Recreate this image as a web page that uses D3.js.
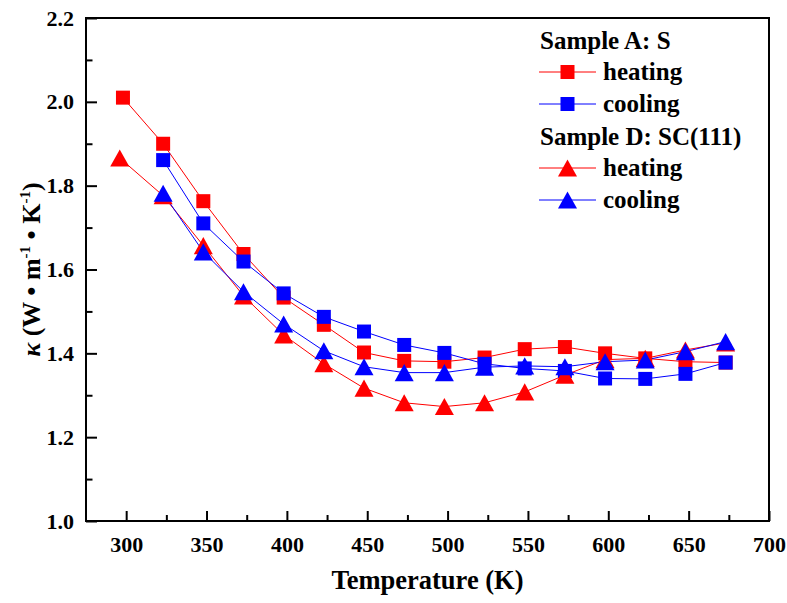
<!DOCTYPE html>
<html>
<head>
<meta charset="utf-8">
<script src="https://cdn.jsdelivr.net/npm/d3@7/dist/d3.min.js"></script>
<style>
  html, body { margin: 0; padding: 0; background: #fff; }
  svg { display: block; }
  text { font-family: "Liberation Serif", "Times New Roman", serif; font-weight: bold; fill: #000; }
</style>
</head>
<body>
<svg id="chart" width="787" height="603"></svg>
<script>
// Thermal conductivity vs temperature, heating / cooling runs
const tempsA = [298, 323, 348, 373, 398, 423, 448, 473, 498, 523, 548, 573, 598, 623, 648, 673];
const tempsCool = [323, 348, 373, 398, 423, 448, 473, 498, 523, 548, 573, 598, 623, 648, 673];
const tempsD = [296, 323, 348, 373, 398, 423, 448, 473, 498, 523, 548, 573, 598, 623, 648, 673];

const kappaAHeating = [2.010, 1.900, 1.763, 1.637, 1.533, 1.468, 1.402, 1.382, 1.380, 1.390, 1.410, 1.415, 1.400, 1.388, 1.380, 1.378];
const kappaACooling = [1.861, 1.710, 1.619, 1.543, 1.487, 1.452, 1.420, 1.401, 1.375, 1.364, 1.358, 1.340, 1.339, 1.351, 1.378];
const kappaDHeating = [1.866, 1.776, 1.657, 1.537, 1.444, 1.375, 1.317, 1.282, 1.273, 1.282, 1.308, 1.348, 1.385, 1.388, 1.408, 1.425];
const kappaDCooling = [1.782, 1.642, 1.547, 1.470, 1.406, 1.368, 1.354, 1.354, 1.367, 1.370, 1.368, 1.380, 1.384, 1.404, 1.428];

const xMajorTicks = [300, 350, 400, 450, 500, 550, 600, 650, 700];
const xMinorTicks = [325, 375, 425, 475, 525, 575, 625, 675];
const yMajorTicks = [1.0, 1.2, 1.4, 1.6, 1.8, 2.0, 2.2];
const yMinorTicks = [1.1, 1.3, 1.5, 1.7, 1.9, 2.1];

const legendGroups = ["Sample A: S", "Sample D: SC(111)"];
const legendLabels = ["heating", "cooling"];

const RED = "#ff0000", BLUE = "#0000ff";

const plot = { left: 86, right: 769, top: 18, bottom: 521 };

const svg = d3.select("#chart");
const x = d3.scaleLinear().domain([275, 700]).range([plot.left, plot.right]);
const y = d3.scaleLinear().domain([1.0, 2.2]).range([plot.bottom, plot.top]);

// Triangle symbol centred on its bounding box
const triangleBox = {
  draw(context, size) {
    const w = Math.sqrt(size);
    const h = w * 0.9;
    context.moveTo(0, -h / 2);
    context.lineTo(w / 2, h / 2);
    context.lineTo(-w / 2, h / 2);
    context.closePath();
  }
};

const squareSym = d3.symbol().type(d3.symbolSquare).size(14 * 14);
const triSym = d3.symbol().type(triangleBox).size(19 * 19);

const series = [
  { t: tempsA, v: kappaAHeating, color: RED, sym: squareSym },
  { t: tempsCool, v: kappaACooling, color: BLUE, sym: squareSym },
  { t: tempsD, v: kappaDHeating, color: RED, sym: triSym },
  { t: tempsCool, v: kappaDCooling, color: BLUE, sym: triSym }
];

const line = d3.line().x(d => x(d[0])).y(d => y(d[1]));

// connecting lines first, markers on top in series order
series.forEach(s => {
  const pts = s.t.map((t, i) => [t, s.v[i]]);
  svg.append("path")
    .attr("d", line(pts))
    .attr("fill", "none")
    .attr("stroke", s.color)
    .attr("stroke-width", 1);
});
series.forEach(s => {
  const pts = s.t.map((t, i) => [t, s.v[i]]);
  svg.append("g").selectAll("path").data(pts).join("path")
    .attr("transform", d => `translate(${x(d[0])},${y(d[1])})`)
    .attr("d", s.sym())
    .attr("fill", s.color);
});

// axes: ticks point inwards
function styleAxis(g) {
  g.select(".domain").remove();
  g.selectAll(".tick line").attr("stroke", "#000").attr("stroke-width", 2);
  g.selectAll(".tick text").style("font-size", "22px").style("font-family", "Liberation Serif, serif").style("font-weight", "bold");
}

svg.append("g").attr("transform", `translate(0,${plot.bottom})`)
  .call(d3.axisBottom(x).tickValues(xMajorTicks).tickSize(-10).tickPadding(15).tickFormat(d3.format("d")))
  .call(styleAxis);
svg.append("g").attr("transform", `translate(0,${plot.bottom})`)
  .call(d3.axisBottom(x).tickValues(xMinorTicks).tickSize(-6).tickFormat(""))
  .call(styleAxis);
svg.append("g").attr("transform", `translate(${plot.left},0)`)
  .call(d3.axisLeft(y).tickValues(yMajorTicks).tickSize(-11).tickPadding(12).tickFormat(d3.format(".1f")))
  .call(styleAxis);
svg.append("g").attr("transform", `translate(${plot.left},0)`)
  .call(d3.axisLeft(y).tickValues(yMinorTicks).tickSize(-6.5).tickFormat(""))
  .call(styleAxis);

// frame
svg.append("rect")
  .attr("x", plot.left).attr("y", plot.top)
  .attr("width", plot.right - plot.left).attr("height", plot.bottom - plot.top)
  .attr("fill", "none").attr("stroke", "#000").attr("stroke-width", 2);

// axis titles
svg.append("text")
  .attr("x", (plot.left + plot.right) / 2 + 0).attr("y", 589)
  .attr("text-anchor", "middle")
  .style("font-size", "26.5px")
  .text("Temperature (K)");

const yTitle = svg.append("text")
  .attr("transform", `translate(40,${(plot.top + plot.bottom) / 2}) rotate(-90)`)
  .attr("text-anchor", "middle")
  .style("font-size", "26px");
yTitle.append("tspan").style("font-style", "italic").text("κ");
yTitle.append("tspan").text(" (W • m");
yTitle.append("tspan").attr("dy", -10).style("font-size", "15px").text("-1");
yTitle.append("tspan").attr("dy", 10).text(" • K");
yTitle.append("tspan").attr("dy", -10).style("font-size", "15px").text("-1");
yTitle.append("tspan").attr("dy", 10).text(")");

// legend
const legend = svg.append("g");
const legendX = 540;
const headerY = [49, 145];
const rowY = [[72, 104], [168, 200]];
const legendSeries = [[series[0], series[1]], [series[2], series[3]]];
legendGroups.forEach((name, gi) => {
  legend.append("text").attr("x", legendX).attr("y", headerY[gi])
    .style("font-size", "25px").text(name);
  legendLabels.forEach((lab, li) => {
    const s = legendSeries[gi][li];
    const ly = rowY[gi][li];
    legend.append("line")
      .attr("x1", legendX - 1).attr("x2", 596).attr("y1", ly).attr("y2", ly)
      .attr("stroke", s.color).attr("stroke-width", 1);
    legend.append("path")
      .attr("transform", `translate(567.5,${ly})`)
      .attr("d", s.sym()).attr("fill", s.color);
    legend.append("text").attr("x", 603).attr("y", ly + 8)
      .style("font-size", "25px").text(lab);
  });
});
</script>
</body>
</html>
